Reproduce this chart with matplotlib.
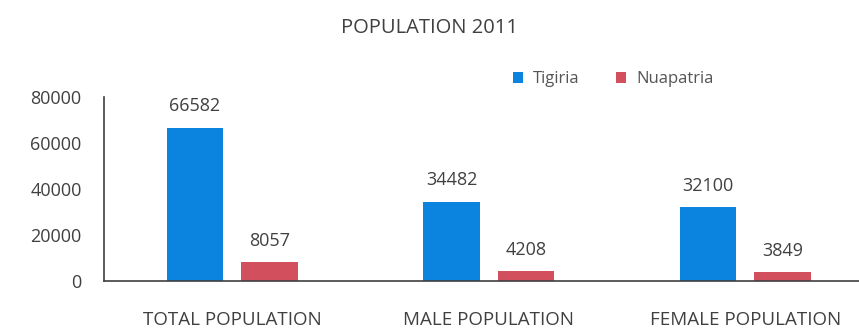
import matplotlib
matplotlib.use('Agg')
import matplotlib.pyplot as plt
import numpy as np

plt.rcParams['font.family'] = ['Open Sans', 'DejaVu Sans']

categories = ['TOTAL POPULATION', 'MALE POPULATION', 'FEMALE POPULATION']
tigiria = [66582, 34482, 32100]
nuapatria = [8057, 4208, 3849]
y_ticks = [0, 20000, 40000, 60000, 80000]

BLUE = '#0a84de'
RED = '#d2505e'
TEXT = '#404040'

fig = plt.figure(figsize=(8.59, 3.34), dpi=100)
fig.patch.set_facecolor('white')
ax = fig.add_axes([0.121, 0.159, 0.896, 0.551])

x = np.arange(len(categories))
width = 0.22
offset = 0.145
b1 = ax.bar(x - offset, tigiria, width, color=BLUE, label='Tigiria')
b2 = ax.bar(x + offset, nuapatria, width, color=RED, label='Nuapatria')

for bars in (b1, b2):
    ax.bar_label(bars, labels=[str(v) for v in bars.datavalues],
                 padding=9, fontsize=13, color=TEXT)

ax.set_xlim(-0.5, 2.5)
ax.set_ylim(0, 80000)
ax.set_yticks(y_ticks)
ax.set_yticklabels([str(v) for v in y_ticks], fontsize=13, color=TEXT)
ax.set_xticks(x)
ax.set_xticklabels(categories, fontsize=13.5, color=TEXT)
ax.tick_params(axis='both', length=0)
ax.tick_params(axis='y', pad=16)
ax.tick_params(axis='x', pad=22)

for side in ('top', 'right'):
    ax.spines[side].set_visible(False)
for side in ('left', 'bottom'):
    ax.spines[side].set_color('#404040')
    ax.spines[side].set_linewidth(1.2)

fig.text(0.5, 0.915, 'POPULATION 2011', ha='center', va='center',
         fontsize=14.5, color=TEXT)

fig.legend(loc='center', bbox_to_anchor=(0.714, 0.762), ncol=2, frameon=False,
           fontsize=12, handlelength=0.6, handleheight=0.6,
           handletextpad=0.6, columnspacing=2.2, labelcolor='#555555')

fig.savefig('out.png', dpi=100, facecolor='white')
